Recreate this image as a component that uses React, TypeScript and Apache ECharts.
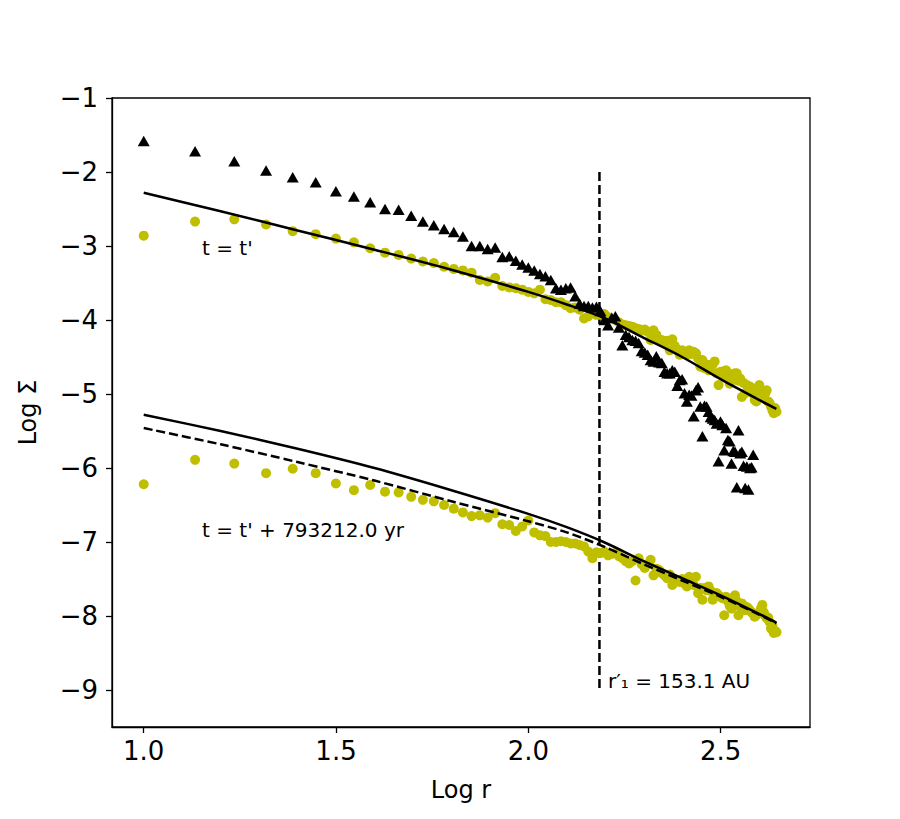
import React, { useEffect, useRef } from "react";
import * as echarts from "echarts";

// log10 of radius (AU) for each sampled annulus
const logR = [
  1.0, 1.1335, 1.2355, 1.3181, 1.3874, 1.4472, 1.4997, 1.5465, 1.5888, 1.6274,
  1.6628, 1.6955, 1.7259, 1.7543, 1.781, 1.8062, 1.8299, 1.8525, 1.8739, 1.8943,
  1.9138, 1.9325, 1.9504, 1.9675, 1.9841, 2.0, 2.0154, 2.0302, 2.0445, 2.0584,
  2.0719, 2.0849, 2.0976, 2.1099, 2.1219, 2.1335, 2.1449, 2.1559, 2.1667, 2.1772,
  2.1875, 2.1976, 2.2074, 2.217, 2.2263, 2.2355, 2.2445, 2.2533, 2.262, 2.2705,
  2.2788, 2.2869, 2.2949, 2.3028, 2.3105, 2.3181, 2.3256, 2.3329, 2.3401, 2.3471,
  2.3541, 2.361, 2.3677, 2.3744, 2.3809, 2.3874, 2.3938, 2.4, 2.4062, 2.4123,
  2.4183, 2.4242, 2.4301, 2.4358, 2.4415, 2.4472, 2.4527, 2.4582, 2.4636, 2.4689,
  2.4742, 2.4794, 2.4846, 2.4897, 2.4947, 2.4997, 2.5046, 2.5095, 2.5143, 2.519,
  2.5237, 2.5284, 2.533, 2.5375, 2.5421, 2.5465, 2.551, 2.5553, 2.5597, 2.5639,
  2.5682, 2.5724, 2.5766, 2.5807, 2.5848, 2.5888, 2.5928, 2.5968, 2.6008, 2.6047,
  2.6085, 2.6124, 2.6162, 2.6199, 2.6237, 2.6274, 2.631, 2.6346, 2.6383, 2.6418,
  2.6454,
];

// yellow circles, t = t'
const sigmaUpper = [
  -2.86, -2.67, -2.64, -2.71, -2.8, -2.84, -2.9, -2.95, -3.03, -3.09,
  -3.12, -3.17, -3.21, -3.23, -3.28, -3.31, -3.33, -3.36, -3.46, -3.48,
  -3.43, -3.54, -3.56, -3.57, -3.59, -3.62, -3.64, -3.59, -3.72, -3.73,
  -3.76, -3.76, -3.8, -3.84, -3.83, -3.86, -3.98, -3.95, -3.9, -3.93,
  -3.93, -3.92, -3.96, -3.99, -4.0, -4.03, -4.06, -4.07, -4.08, -4.09,
  -4.11, -4.12, -4.14, -4.13, -4.16, -4.27, -4.14, -4.2, -4.26, -4.27,
  -4.3, -4.28, -4.41, -4.26, -4.35, -4.4, -4.47, -4.41, -4.45, -4.47,
  -4.41, -4.46, -4.43, -4.45, -4.52, -4.63, -4.54, -4.65, -4.6, -4.68,
  -4.62, -4.6, -4.56, -4.72, -4.88, -4.7, -4.74, -4.69, -4.68, -4.78,
  -4.86, -4.76, -4.73, -4.72, -4.72, -4.82, -4.79, -5.04, -4.85, -4.99,
  -4.88, -4.93, -4.9, -4.96, -5.0, -5.08, -5.1, -4.92, -4.88, -4.97,
  -4.99, -5.02, -4.99, -4.95, -5.1, -5.12, -5.17, -5.22, -5.26, -5.19,
  -5.24,
];

// yellow circles, t = t' + 793212.0 yr
const sigmaLower = [
  -6.22, -5.89, -5.94, -6.07, -6.01, -6.07, -6.21, -6.3, -6.23, -6.32,
  -6.33, -6.39, -6.43, -6.45, -6.5, -6.55, -6.6, -6.65, -6.64, -6.67,
  -6.61, -6.76, -6.77, -6.85, -6.79, -6.71, -6.87, -6.91, -6.92, -7.0,
  -7.0, -6.99, -7.0, -7.02, -7.02, -7.04, -7.06, -7.13, -7.22, -7.14,
  -7.15, -7.13, -7.18, -7.16, -7.15, -7.19, -7.22, -7.26, -7.29, -7.26,
  -7.52, -7.22, -7.3, -7.35, -7.3, -7.24, -7.45, -7.36, -7.38, -7.42,
  -7.45, -7.49, -7.44, -7.58, -7.5, -7.52, -7.54, -7.5, -7.56, -7.6,
  -7.47, -7.55, -7.58, -7.47, -7.69, -7.62, -7.78, -7.62, -7.65, -7.6,
  -7.66, -7.78, -7.7, -7.69, -7.72, -7.74, -7.76, -7.99, -7.74, -7.8,
  -7.86, -7.9, -7.82, -7.72, -7.8, -7.99, -7.88, -7.83, -7.86, -7.92,
  -7.88, -7.9, -7.93, -7.95, -7.97, -8.01, -7.99, -7.97, -7.95, -7.9,
  -7.85, -7.95, -8.0, -8.03, -8.02, -8.08, -8.17, -8.12, -8.23, -8.2,
  -8.22,
];

// black triangles (first 105 radii)
const sigmaTriangles = [
  -1.58, -1.72, -1.855, -1.98, -2.07, -2.14, -2.26, -2.33, -2.41, -2.5,
  -2.51, -2.59, -2.67, -2.72, -2.77, -2.81, -2.87, -3.0, -3.0, -3.04,
  -3.02, -3.15, -3.14, -3.2, -3.25, -3.29, -3.33, -3.38, -3.41, -3.46,
  -3.57, -3.59, -3.57, -3.56, -3.68, -3.78, -3.81, -3.81, -3.83, -3.82,
  -3.88, -4.0, -4.07, -3.97, -3.95, -4.1, -4.34, -4.2, -4.23, -4.27,
  -4.28, -4.31, -4.42, -4.44, -4.47, -4.54, -4.56, -4.49, -4.57, -4.58,
  -4.7, -4.72, -4.72, -4.68, -4.7, -4.89, -4.81, -4.8, -4.99, -5.1,
  -5.01, -5.02, -5.3, -4.95, -4.91, -5.17, -5.57, -5.16, -5.17, -5.24,
  -5.31, -5.33, -5.35, -5.4, -5.91, -5.37, -5.42, -5.76, -5.46, -5.62,
  -5.64, -5.94, -5.77, -5.78, -6.26, -5.49, -5.8, -5.78, -5.97, -6.27,
  -5.98, -6.29, -6.0, -5.99, -5.82,
];

// model curves
const fitX = [1.0, 1.2, 1.4, 1.6, 1.8, 2.0, 2.1, 2.2, 2.3, 2.4, 2.5, 2.6, 2.645];
const fitUpper = [-2.28, -2.53, -2.79, -3.05, -3.32, -3.62, -3.79, -3.98, -4.24, -4.5, -4.8, -5.08, -5.2];
const fitLowerSolid = [-5.28, -5.5, -5.74, -6.0, -6.3, -6.62, -6.8, -7.01, -7.26, -7.49, -7.72, -7.97, -8.09];
const fitLowerDashed = [-5.46, -5.68, -5.92, -6.17, -6.45, -6.72, -6.87, -7.07, -7.3, -7.52, -7.74, -7.98, -8.1];

// r'_1 marker
const rPrimeLog = 2.185;
const rPrimeSpan = [-2, -9];

const xTicks = [1.0, 1.5, 2.0, 2.5];
const yTicks = [-9, -8, -7, -6, -5, -4, -3, -2, -1];

const FONT = "DejaVu Sans";
const YELLOW = "#bfbf00";

const pairs = (xs: number[], ys: number[]) => ys.map((y, i) => [xs[i], y]);

export default function App() {
  const ref = useRef<HTMLDivElement>(null);
  useEffect(() => {
    if (!ref.current) return;
    const chart = echarts.init(ref.current, null, { renderer: "svg" });
    const lineSeries = (data: number[][], type: any, z: number) => ({
      type: "line",
      data,
      showSymbol: false,
      symbol: "none",
      smooth: 0.3,
      z,
      lineStyle: { color: "#000", width: 2.5, type },
    });
    chart.setOption({
      animation: false,
      backgroundColor: "#fff",
      grid: {
        left: 112,
        right: 90,
        top: 98,
        bottom: 92,
        show: true,
        borderColor: "#000",
        borderWidth: 1.3,
      },
      xAxis: {
        type: "value",
        min: 0.9175,
        max: 2.7325,
        name: "Log r",
        nameLocation: "middle",
        nameGap: 51,
        nameTextStyle: { fontFamily: FONT, fontSize: 24, color: "#000" },
        axisLine: { show: true, onZero: false, lineStyle: { color: "#000", width: 1.3 } },
        axisTick: { show: true, length: 6, customValues: xTicks, lineStyle: { color: "#000", width: 1.3 } },
        axisLabel: {
          customValues: xTicks,
          margin: 11,
          fontFamily: FONT,
          fontSize: 26,
          color: "#000",
          formatter: (v: number) => v.toFixed(1),
        },
        splitLine: { show: false },
      },
      yAxis: {
        type: "value",
        min: -9.5,
        max: -1,
        name: "Log Σ",
        nameLocation: "middle",
        nameGap: 72,
        nameRotate: 90,
        nameTextStyle: { fontFamily: FONT, fontSize: 24, color: "#000" },
        axisLine: { show: true, onZero: false, lineStyle: { color: "#000", width: 1.3 } },
        axisTick: { show: true, length: 6, customValues: yTicks, lineStyle: { color: "#000", width: 1.3 } },
        axisLabel: {
          customValues: yTicks,
          margin: 14,
          fontFamily: FONT,
          fontSize: 26,
          color: "#000",
          formatter: (v: number) => (v < 0 ? "\u2212" + Math.abs(v) : String(v)),
        },
        splitLine: { show: false },
      },
      series: [
        {
          type: "scatter",
          data: pairs(logR, sigmaUpper),
          symbol: "circle",
          symbolSize: 10,
          itemStyle: { color: YELLOW, opacity: 1 },
          z: 2,
        },
        {
          type: "scatter",
          data: pairs(logR, sigmaLower),
          symbol: "circle",
          symbolSize: 10,
          itemStyle: { color: YELLOW, opacity: 1 },
          z: 2,
        },
        {
          type: "scatter",
          data: pairs(logR, sigmaTriangles),
          symbol: "triangle",
          symbolSize: [12, 10.5],
          itemStyle: { color: "#000", opacity: 1 },
          z: 3,
        },
        lineSeries(pairs(fitX, fitUpper), "solid", 4),
        lineSeries(pairs(fitX, fitLowerSolid), "solid", 4),
        lineSeries(pairs(fitX, fitLowerDashed), [9, 4], 4),
        {
          type: "line",
          data: rPrimeSpan.map((y) => [rPrimeLog, y]),
          showSymbol: false,
          symbol: "none",
          z: 1,
          lineStyle: { color: "#000", width: 2.5, type: [9, 4] },
        },
      ],
      graphic: [
        {
          type: "text",
          left: 202,
          top: 238,
          style: { text: "t = t'", fontFamily: FONT, fontSize: 20, fill: "#000" },
        },
        {
          type: "text",
          left: 202,
          top: 520,
          style: { text: "t = t' + 793212.0 yr", fontFamily: FONT, fontSize: 20, fill: "#000" },
        },
        {
          type: "text",
          left: 608,
          top: 671,
          style: { text: "r\u2032\u2081 = 153.1 AU", fontFamily: FONT, fontSize: 20, fill: "#000" },
        },
      ],
    });
    return () => chart.dispose();
  }, []);
  return (
    <div
      ref={ref}
      style={{ position: "absolute", left: 0, top: 0, width: 900, height: 819, background: "#fff" }}
    />
  );
}
